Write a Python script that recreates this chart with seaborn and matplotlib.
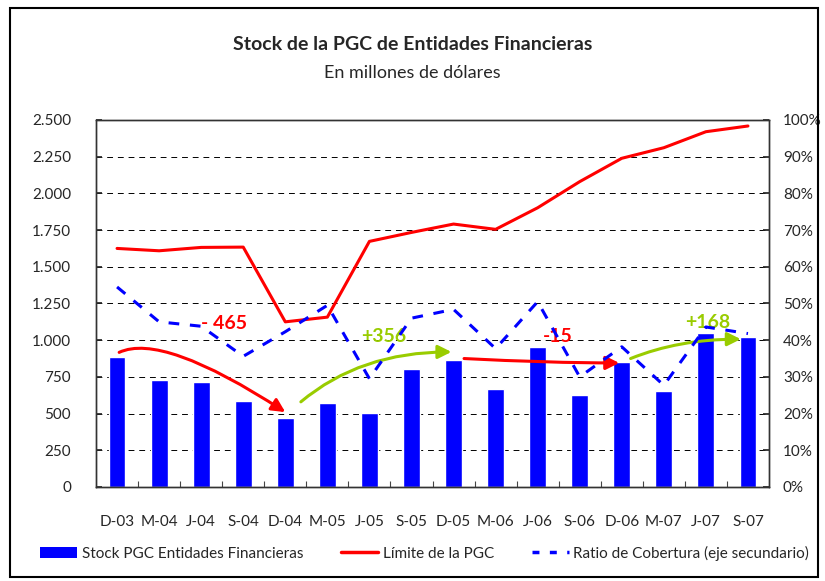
import seaborn as sns
import matplotlib.pyplot as plt
import matplotlib.ticker as mticker
from matplotlib.patches import Rectangle
from matplotlib.lines import Line2D
import pandas as pd

# Datos (millones de dólares)
periodos = ["D-03", "M-04", "J-04", "S-04", "D-04", "M-05", "J-05", "S-05",
            "D-05", "M-06", "J-06", "S-06", "D-06", "M-07", "J-07", "S-07"]
stock_pgc = [884, 727, 714, 584, 468, 571, 502, 802,
             866, 666, 952, 625, 850, 652, 1048, 1021]
limite_pgc = [1625, 1609, 1632, 1634, 1125, 1157, 1673, 1734,
              1791, 1755, 1902, 2080, 2239, 2311, 2420, 2459]
ratio_cobertura = [54.5, 45.0, 43.8, 35.6, 42.3, 49.5, 29.5, 46.0,
                   48.4, 37.7, 50.5, 30.0, 38.2, 27.7, 43.6, 41.8]

df = pd.DataFrame({"Periodo": periodos, "Stock": stock_pgc,
                   "Limite": limite_pgc, "Ratio": ratio_cobertura})
df["pos"] = range(len(df))

sns.set_theme(style="white")
plt.rcParams["font.family"] = ["Lato", "DejaVu Sans"]

AZUL = "#0000FF"
ROJO = "#FF0000"
VERDE = "#99CC00"

fig = plt.figure(figsize=(8.25, 5.81), dpi=100)
ax = fig.add_axes([0.1164, 0.1618, 0.8157, 0.6317])

sns.barplot(data=df, x="Periodo", y="Stock", color=AZUL, width=0.4,
            saturation=1, ax=ax, zorder=2)
sns.lineplot(data=df, x="pos", y="Limite", color=ROJO, lw=2.2, ax=ax, zorder=3)

ax.set_ylim(0, 2500)
ax.set_xlim(-0.5, len(periodos) - 0.5)
ax.yaxis.set_major_locator(mticker.MultipleLocator(250))
ax.yaxis.set_major_formatter(mticker.FuncFormatter(lambda v, p: f"{v:,.0f}".replace(",", ".")))
ax.grid(axis="y", color="black", linestyle=(0, (6, 5)), lw=0.7, zorder=0)
ax.set_axisbelow(True)
ax.set_xlabel("")
ax.set_ylabel("")
ax.set_xticks(range(len(periodos)))
ax.set_xticklabels(periodos)
ax.xaxis.set_minor_locator(mticker.FixedLocator([i + 0.5 for i in range(len(periodos) - 1)]))
ax.tick_params(axis="x", which="major", length=0, pad=20, labelsize=11)
ax.tick_params(axis="x", which="minor", direction="in", length=4, width=0.8, color="#444444", bottom=True)
ax.tick_params(axis="y", direction="in", length=4, pad=18, labelsize=11, left=True)
for s in ax.spines.values():
    s.set_color("#333333")
    s.set_linewidth(1.0)

# eje secundario
ax2 = ax.twinx()
sns.lineplot(data=df, x="pos", y="Ratio", color=AZUL, lw=2.2,
             linestyle=(0, (3.5, 3.5)), ax=ax2, zorder=4)
ax2.set_ylim(0, 100)
ax2.set_xlim(-0.5, len(periodos) - 0.5)
ax2.yaxis.set_major_locator(mticker.MultipleLocator(10))
ax2.yaxis.set_major_formatter(mticker.FuncFormatter(lambda v, p: f"{v:.0f}%"))
ax2.tick_params(axis="y", direction="in", length=4, pad=10, labelsize=11, right=True)
ax2.set_ylabel("")
ax2.grid(False)
for s in ax2.spines.values():
    s.set_color("#333333")
    s.set_linewidth(1.0)

# flechas de variación
flechas = [
    ((0.05, 917), (4.0, 510), ROJO, "angle3,angleA=25,angleB=-33"),
    ((4.37, 580), (7.95, 920), VERDE, "angle3,angleA=40,angleB=0"),
    ((8.25, 875), (11.94, 845), ROJO, "angle3,angleA=-3,angleB=0"),
    ((12.21, 875), (14.83, 1007), VERDE, "angle3,angleA=22,angleB=0"),
]
for ini, fin, col, estilo in flechas:
    ax.annotate("", xy=fin, xytext=ini,
                arrowprops=dict(arrowstyle="-|>", color=col, lw=2.2,
                                mutation_scale=20, shrinkA=0, shrinkB=0,
                                connectionstyle=estilo), zorder=5)

etiquetas = [(2.55, 1116, "- 465", ROJO), (6.33, 1027, "+356", VERDE),
             (10.47, 1023, "-15", ROJO), (14.05, 1118, "+168", VERDE)]
for x, y, txt, col in etiquetas:
    ax.text(x, y, txt, color=col, fontsize=14, fontweight="bold",
            ha="center", va="center", zorder=6)

fig.text(0.5, 1 - 44 / 581, "Stock de la PGC de Entidades Financieras",
         ha="center", va="center", fontsize=14, fontweight="bold")
fig.text(0.5, 1 - 73 / 581, "En millones de dólares",
         ha="center", va="center", fontsize=13)

handles = [
    Rectangle((0, 0), 1, 1, facecolor=AZUL, edgecolor="none"),
    Line2D([0], [0], color=ROJO, lw=2.5),
    Line2D([0], [0], color=AZUL, lw=2.5, linestyle=(0, (2, 3))),
]
fig.legend(handles, ["Stock PGC Entidades Financieras", "Límite de la PGC",
                     "Ratio de Cobertura (eje secundario)"],
           loc="center", bbox_to_anchor=(0.515, 1 - 553 / 581), ncol=3,
           frameon=False, fontsize=11, handlelength=2.4, handletextpad=0.3,
           columnspacing=2.5)

fig.patches.append(Rectangle((10 / 825, 1 - 577 / 581), 808 / 825, 569 / 581,
                             transform=fig.transFigure, fill=False,
                             edgecolor="black", lw=1.5))

fig.savefig("out.png", dpi=100)
